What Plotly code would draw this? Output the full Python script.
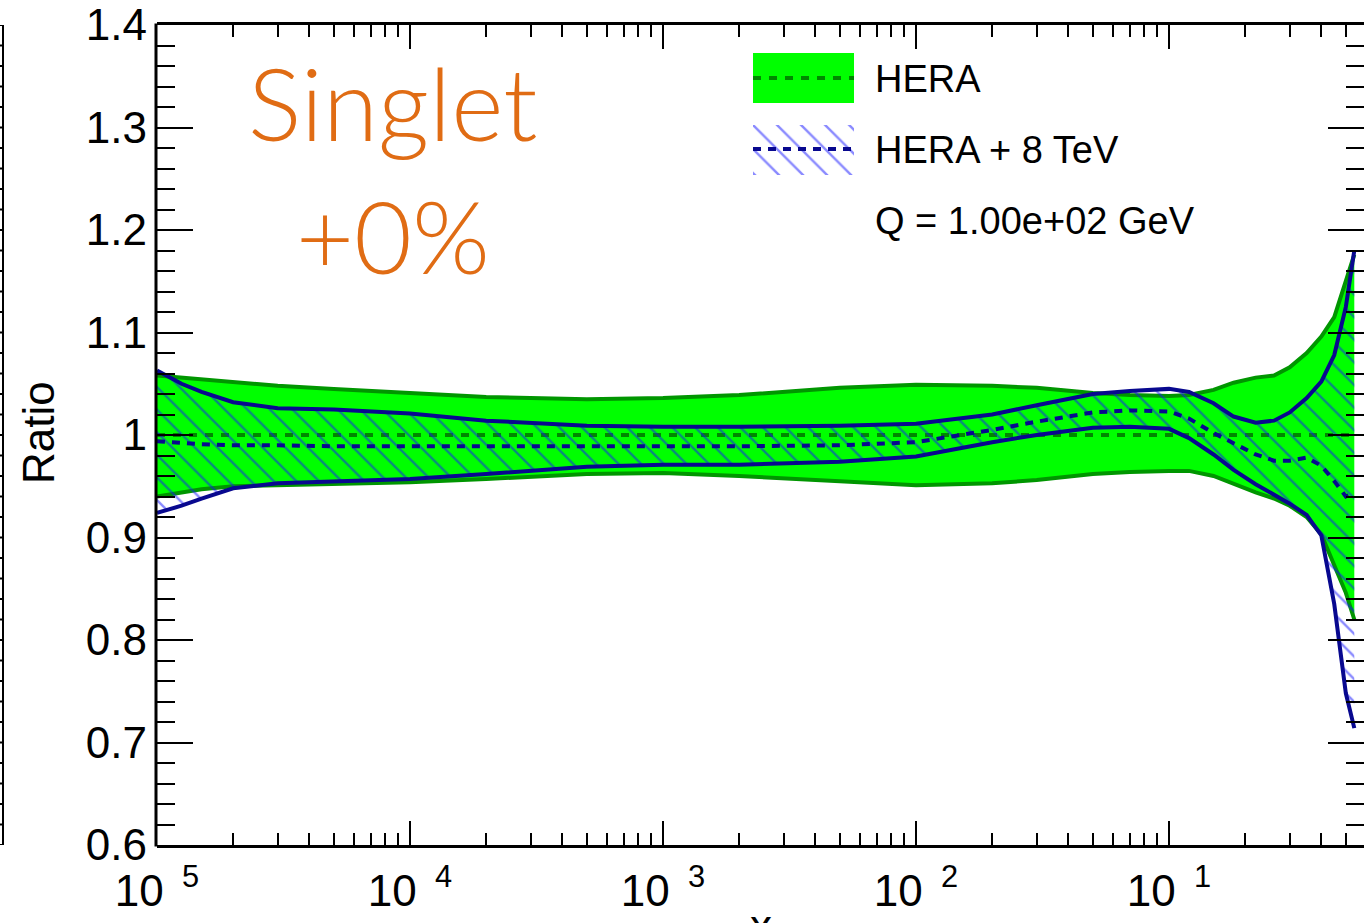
import plotly.graph_objects as go

# ---------------- data ----------------
x_vals = [1e-5, 1.25e-5, 1.5e-5, 2e-5, 3e-5, 5e-5, 1e-4, 2e-4, 5e-4, 1e-3, 2e-3, 5e-3,
          1e-2, 2e-2, 3e-2, 5e-2, 7e-2, 0.1, 0.12, 0.15, 0.18, 0.22, 0.26, 0.3, 0.35,
          0.4, 0.45, 0.5, 0.54]

hera_up = [1.058, 1.056, 1.054, 1.051, 1.048, 1.045, 1.041, 1.037, 1.035, 1.036, 1.039, 1.046,
           1.049, 1.048, 1.046, 1.041, 1.039, 1.038, 1.039, 1.044, 1.051, 1.056, 1.058, 1.066,
           1.080, 1.096, 1.115, 1.150, 1.176]
hera_dn = [0.940, 0.944, 0.947, 0.950, 0.951, 0.952, 0.954, 0.957, 0.962, 0.963, 0.960, 0.955,
           0.951, 0.953, 0.956, 0.962, 0.964, 0.965, 0.965, 0.960, 0.952, 0.944, 0.938, 0.931,
           0.920, 0.903, 0.873, 0.846, 0.820]
hera_c = [1.0] * len(x_vals)

lhc_up = [1.063, 1.050, 1.042, 1.032, 1.026, 1.025, 1.021, 1.014, 1.009, 1.008, 1.008, 1.009,
          1.011, 1.020, 1.029, 1.040, 1.043, 1.045, 1.042, 1.031, 1.018, 1.012, 1.014, 1.022,
          1.036, 1.052, 1.078, 1.125, 1.180]
lhc_dn = [0.924, 0.931, 0.938, 0.948, 0.953, 0.955, 0.957, 0.962, 0.969, 0.971, 0.971, 0.974,
          0.979, 0.993, 1.000, 1.007, 1.008, 1.006, 0.997, 0.981, 0.966, 0.952, 0.942, 0.933,
          0.922, 0.902, 0.835, 0.748, 0.714]
lhc_c = [0.994, 0.992, 0.991, 0.990, 0.990, 0.989, 0.989, 0.989, 0.989, 0.989, 0.989, 0.990,
         0.993, 1.005, 1.013, 1.022, 1.024, 1.023, 1.016, 1.002, 0.992, 0.981, 0.975, 0.975,
         0.978, 0.970, 0.955, 0.940, 0.944]

x_tickvals = [1e-5, 1e-4, 1e-3, 1e-2, 1e-1]
x_ticktext = ["10 <sup>\u20095</sup>", "10 <sup>\u20094</sup>", "10 <sup>\u20093</sup>",
              "10 <sup>\u20092</sup>", "10 <sup>\u20091</sup>"]
y_tickvals = [0.6, 0.7, 0.8, 0.9, 1.0, 1.1, 1.2, 1.3, 1.4]
y_ticktext = ["0.6", "0.7", "0.8", "0.9", "1", "1.1", "1.2", "1.3", "1.4"]

legend_labels = ["HERA", "HERA + 8 TeV"]
q_label = "Q = 1.00e+02 GeV"
title_lines = ["Singlet", "+0%"]

# ---------------- styles ----------------
FONT = "Liberation Sans, Arial, Helvetica, sans-serif"
GREEN = "#00ff00"
DKGREEN = "#009600"
NAVY = "#08088f"
HATCH = "#1414ff"
ORANGE = "#e06c14"
HERA_DASH = "rgba(0,115,0,0.85)"

W, H = 1364, 923
ML, MR, MT, MB = 157, 0, 25, 78
PW, PH = W - ML - MR, H - MT - MB


def px_x(p):
    return (p - ML) / PW


def px_y(p):
    return (H - MB - p) / PH


fig = go.Figure()

# HERA band
fig.add_trace(go.Scatter(x=x_vals + x_vals[::-1], y=hera_up + hera_dn[::-1], mode="lines",
                         fill="toself", fillcolor=GREEN, line=dict(width=0), hoverinfo="skip",
                         showlegend=False))
for arr in (hera_up, hera_dn):
    fig.add_trace(go.Scatter(x=x_vals, y=arr, mode="lines", line=dict(color=DKGREEN, width=4),
                             showlegend=False))
fig.add_trace(go.Scatter(x=x_vals, y=hera_c, mode="lines",
                         line=dict(color=HERA_DASH, width=4, dash="8px,8px"),
                         showlegend=False))

# HERA + 8 TeV band (hatched)
fig.add_trace(go.Scatter(x=x_vals + x_vals[::-1], y=lhc_up + lhc_dn[::-1], mode="lines",
                         fill="toself", fillcolor="rgba(0,0,0,0)",
                         fillpattern=dict(shape="\\", fgcolor=HATCH, bgcolor="rgba(0,0,0,0)",
                                          size=16, solidity=0.15),
                         line=dict(width=0), hoverinfo="skip", showlegend=False))
for arr in (lhc_up, lhc_dn):
    fig.add_trace(go.Scatter(x=x_vals, y=arr, mode="lines", line=dict(color=NAVY, width=4),
                             showlegend=False))
fig.add_trace(go.Scatter(x=x_vals, y=lhc_c, mode="lines",
                         line=dict(color=NAVY, width=4, dash="8px,7px"), showlegend=False))

# legend hatched glyph on a tiny helper axis
lx0, lx1 = px_x(753), px_x(854)
fig.add_trace(go.Scatter(x=[0, 1, 1, 0, 0], y=[0, 0, 1, 1, 0], mode="lines", fill="toself",
                         fillcolor="rgba(0,0,0,0)",
                         fillpattern=dict(shape="\\", fgcolor=HATCH, bgcolor="rgba(0,0,0,0)",
                                          size=17, solidity=0.14),
                         line=dict(width=0), xaxis="x2", yaxis="y2", showlegend=False,
                         hoverinfo="skip"))

shapes = []
# HERA legend glyph
shapes.append(dict(type="rect", xref="paper", yref="paper", x0=lx0, x1=lx1,
                   y0=px_y(103), y1=px_y(53), fillcolor=GREEN, line=dict(width=0), layer="above"))
shapes.append(dict(type="line", xref="paper", yref="paper", x0=lx0, x1=lx1,
                   y0=px_y(78), y1=px_y(78),
                   line=dict(color=HERA_DASH, width=4, dash="8px,8px")))
shapes.append(dict(type="line", xref="paper", yref="paper", x0=lx0, x1=lx1,
                   y0=px_y(149), y1=px_y(149), line=dict(color=NAVY, width=4, dash="8px,7px")))

# left frame line of the plot (right frame lies outside the picture)
shapes.append(dict(type="line", xref="paper", yref="paper", x0=px_x(156), x1=px_x(156),
                   y0=px_y(846.5), y1=px_y(23.5), line=dict(color="black", width=3)))

# remnant of neighbouring panel frame at the far left
shapes.append(dict(type="line", xref="paper", yref="paper", x0=px_x(3), x1=px_x(3),
                   y0=0, y1=1, line=dict(color="black", width=2)))
for i in range(41):
    v = 0.6 + 0.02 * i
    shapes.append(dict(type="line", xref="paper", yref="y", x0=px_x(0), x1=px_x(3),
                       y0=v, y1=v, line=dict(color="black", width=2)))

TFONT = dict(family="Lato, Open Sans, sans-serif", size=100, color=ORANGE, weight=300)
annotations = [
    dict(text=title_lines[0], x=px_x(392), y=px_y(102), xref="paper", yref="paper",
         showarrow=False, xanchor="center", yanchor="middle", font=TFONT),
    dict(text=title_lines[1], x=px_x(393), y=px_y(235), xref="paper", yref="paper",
         showarrow=False, xanchor="center", yanchor="middle", font=TFONT),
    dict(text=legend_labels[0], x=px_x(873), y=px_y(79), xref="paper", yref="paper",
         showarrow=False, xanchor="left", yanchor="middle", font=dict(family=FONT, size=38, color="black")),
    dict(text=legend_labels[1], x=px_x(873), y=px_y(150), xref="paper", yref="paper",
         showarrow=False, xanchor="left", yanchor="middle", font=dict(family=FONT, size=38, color="black")),
    dict(text=q_label, x=px_x(873), y=px_y(221), xref="paper", yref="paper",
         showarrow=False, xanchor="left", yanchor="middle", font=dict(family=FONT, size=38, color="black")),
    dict(text="Ratio", x=px_x(38), y=px_y(433), xref="paper", yref="paper", textangle=-90,
         showarrow=False, xanchor="center", yanchor="middle", font=dict(family=FONT, size=44, color="black")),
    dict(text="x", x=px_x(761), y=px_y(925), xref="paper", yref="paper",
         showarrow=False, xanchor="center", yanchor="middle", font=dict(family=FONT, size=44, color="black")),
]

minor_x = [m * 10.0 ** e for e in range(-5, 0) for m in range(2, 10)]

fig.update_layout(
    width=W, height=H, margin=dict(l=ML, r=MR, t=MT, b=MB),
    paper_bgcolor="white", plot_bgcolor="white", showlegend=False,
    shapes=shapes, annotations=annotations,
    xaxis=dict(type="log", range=[-5, -5 + PW / 253.0], tickmode="array",
               tickvals=x_tickvals, ticktext=x_ticktext, ticks="inside", ticklen=24, tickwidth=2,
               tickcolor="black", showline=True, linewidth=3, linecolor="black", mirror="allticks",
               showgrid=False, zeroline=False, ticklabelstandoff=5,
               tickfont=dict(family=FONT, size=44, color="black"),
               minor=dict(tickmode="array", tickvals=minor_x, ticks="inside", ticklen=12,
                          tickwidth=2, tickcolor="black", showgrid=False)),
    yaxis=dict(range=[0.6, 1.4], tickmode="array", tickvals=y_tickvals, ticktext=y_ticktext,
               ticks="inside", ticklen=36, tickwidth=2, tickcolor="black", showline=False,
               mirror="allticks", showgrid=False, zeroline=False, ticklabelstandoff=9,
               tickfont=dict(family=FONT, size=44, color="black"),
               minor=dict(dtick=0.02, tick0=0.6, ticks="inside", ticklen=18, tickwidth=2,
                          tickcolor="black", showgrid=False)),
    xaxis2=dict(domain=[lx0, lx1], range=[0, 1], visible=False, anchor="y2"),
    yaxis2=dict(domain=[px_y(175), px_y(125)], range=[0, 1], visible=False, anchor="x2"),
)

fig.write_html("out.html")
